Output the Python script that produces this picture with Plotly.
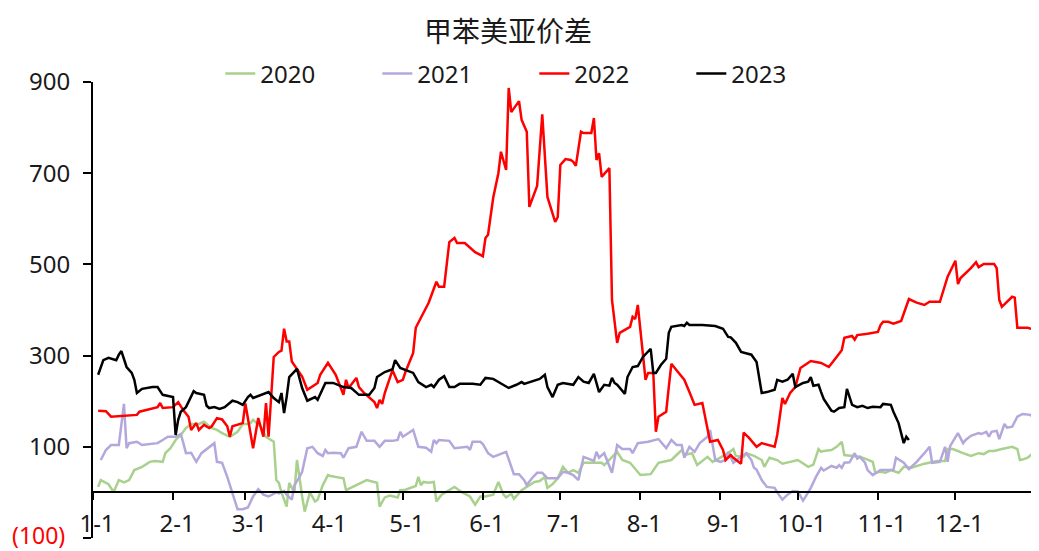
import plotly.graph_objects as go

# day-of-year positions (0 = 1-1) and values
days_2020 = [2, 3, 6, 8, 10, 12, 14, 16, 19, 22, 24, 27, 28, 30, 32, 34, 36, 38, 41, 43, 46, 48, 50, 53, 56, 58, 60, 61, 62, 65,
             67, 70, 71, 72, 73, 75, 76, 78, 79, 80, 81, 82, 84, 86, 87, 89, 91, 92, 97, 98, 102, 106, 110, 111, 113, 115, 118, 119, 121, 123,
             125, 126, 127, 128, 130, 132, 133, 135, 140, 143, 146, 148, 150, 152, 154, 155, 157, 159, 160, 162, 163, 166, 168, 171, 173, 175, 176, 178, 180, 182,
             184, 186, 188, 190, 192, 197, 198, 203, 205, 208, 212, 216, 219, 224, 226, 228, 229, 232, 234, 238, 240, 243, 246, 248, 249, 252, 253, 256, 259, 260,
             262, 265, 267, 270, 273, 277, 279, 281, 282, 283, 286, 288, 290, 291, 295, 297, 300, 302, 303, 305, 307, 309, 312, 314, 317, 319, 322, 327, 330, 331,
             333, 337, 340, 343, 345, 347, 349, 352, 354, 356, 358, 359, 360, 362, 364, 365]
vals_2020 = [12, 27, 18, 1, 27, 22, 27, 49, 56, 67, 69, 67, 86, 97, 115, 126, 141, 150, 150, 155, 141, 137, 130, 122, 133, 150, 150, 152, 159, 144,
             122, 111, 27, 21, 0, -31, 21, 0, 71, 27, -9, -42, 0, -20, -16, 16, 38, 36, 31, 5, 16, 27, 21, -31, -11, -7, -11, 5, 6, 10,
             14, 34, 16, 23, 21, 23, -20, -5, 12, 0, -9, -27, -9, -9, -7, -5, 23, -5, -11, -3, -14, 5, 12, 23, 25, 34, 10, 18, 31, 56,
             43, 49, 43, 65, 65, 65, 60, 89, 71, 65, 38, 40, 65, 71, 82, 93, 82, 86, 60, 78, 67, 76, 86, 95, 80, 78, 86, 80, 71, 56,
             76, 71, 63, 67, 71, 56, 61, 95, 89, 91, 93, 100, 111, 82, 80, 78, 72, 67, 43, 45, 43, 49, 43, 56, 54, 58, 63, 69, 69, 95,
             95, 86, 80, 86, 84, 91, 91, 95, 98, 100, 95, 71, 72, 76, 86, 97]

days_2021 = [3, 5, 7, 9, 10, 12, 13, 14, 17, 19, 22, 25, 27, 29, 32, 34, 35, 36, 38, 40, 42, 45, 47, 48, 50, 52, 54, 56, 58, 60,
             62, 64, 66, 68, 71, 72, 74, 75, 77, 78, 80, 81, 83, 85, 87, 89, 90, 91, 93, 96, 97, 99, 102, 103, 104, 106, 109, 111, 113, 116,
             118, 119, 120, 124, 126, 129, 131, 132, 133, 134, 138, 140, 143, 145, 146, 147, 150, 151, 153, 155, 160, 161, 163, 165, 167, 168, 170, 172, 174, 176,
             180, 182, 184, 186, 188, 190, 193, 194, 195, 196, 198, 199, 201, 203, 205, 208, 209, 211, 215, 219, 220, 222, 224, 226, 228, 229, 231, 233, 235, 238,
             239, 240, 241, 243, 245, 246, 248, 250, 251, 253, 255, 256, 257, 259, 261, 264, 265, 267, 269, 271, 273, 275, 276, 278, 280, 282, 283, 285, 286, 288,
             289, 290, 291, 293, 295, 296, 297, 299, 300, 302, 303, 305, 307, 310, 311, 314, 316, 319, 322, 324, 325, 328, 330, 331, 332, 333, 335, 337, 338, 340,
             343, 344, 346, 347, 348, 350, 351, 353, 354, 356, 358, 360, 363, 364, 365]
vals_2021 = [71, 93, 104, 104, 104, 194, 97, 108, 111, 104, 106, 108, 115, 122, 122, 128, 108, 86, 87, 67, 86, 100, 108, 67, 65, 34, 0, -37, -37, -33,
             -9, 7, -5, -9, 0, -2, 3, -5, -16, 16, 34, 45, 97, 100, 86, 80, 93, 86, 87, 86, 76, 97, 100, 115, 133, 113, 113, 100, 113, 113,
             115, 133, 122, 137, 100, 98, 89, 115, 108, 115, 113, 97, 98, 100, 93, 111, 111, 106, 86, 78, 89, 71, 40, 40, 27, 16, 31, 43, 43, 31,
             31, 45, 43, 38, 27, 78, 71, 69, 89, 76, 86, 71, 43, 104, 95, 95, 86, 108, 111, 117, 111, 97, 115, 104, 104, 76, 100, 89, 108, 122,
             137, 100, 71, 67, 71, 89, 65, 74, 78, 86, 71, 54, 50, 27, 12, 10, 0, -16, -5, 3, 2, -18, -9, 10, 34, 54, 48, 54, 58, 54,
             60, 54, 65, 66, 86, 74, 78, 65, 49, 38, 42, 49, 49, 49, 76, 65, 51, 67, 86, 100, 65, 67, 100, 67, 102, 111, 130, 108, 115, 124,
             130, 128, 133, 122, 133, 135, 117, 150, 142, 144, 166, 172, 170, 166, 172]

days_2022 = [2, 5, 7, 17, 18, 25, 26, 27, 31, 33, 35, 37, 38, 40, 41, 43, 45, 46, 48, 50, 52, 53, 54, 58, 59, 60, 62, 64, 66, 67,
             68, 70, 72, 73, 74, 75, 76, 77, 79, 81, 83, 87, 88, 91, 94, 97, 98, 99, 102, 103, 105, 109, 110, 111, 112, 113, 116, 118, 120, 121,
             124, 125, 127, 130, 133, 134, 136, 138, 140, 141, 144, 146, 148, 151, 152, 153, 155, 157, 158, 160, 161, 162, 165, 166, 168, 169, 172, 174, 176, 179,
             180, 181, 183, 185, 186, 187, 189, 190, 193, 194, 195, 196, 197, 200, 201, 203, 204, 208, 209, 210, 211, 214, 215, 217, 218, 219, 222, 223, 224, 226,
             229, 231, 233, 236, 239, 242, 244, 245, 247, 248, 251, 252, 254, 257, 259, 264, 265, 267, 268, 270, 272, 274, 277, 278, 282, 285, 288, 290, 291, 294,
             295, 296, 300, 304, 305, 306, 308, 310, 313, 316, 319, 322, 324, 328, 331, 334, 335, 336, 340, 342, 343, 345, 349, 350, 351, 352, 356, 357, 358, 362,
             365]
vals_2022 = [179, 178, 166, 170, 177, 187, 196, 185, 187, 198, 180, 166, 137, 152, 137, 148, 141, 145, 163, 160, 145, 122, 145, 152, 195, 159, 97, 163, 122, 196,
             122, 297, 308, 311, 359, 331, 331, 287, 270, 254, 225, 240, 258, 284, 258, 214, 247, 229, 251, 231, 218, 198, 185, 203, 194, 218, 268, 242, 247, 264,
             306, 361, 383, 416, 462, 451, 451, 549, 558, 547, 547, 538, 527, 518, 558, 565, 646, 700, 747, 707, 887, 834, 858, 817, 791, 626, 672, 829, 648, 593,
             604, 718, 731, 729, 725, 716, 791, 788, 788, 821, 729, 744, 692, 711, 422, 328, 350, 363, 385, 380, 411, 247, 262, 262, 133, 166, 177, 231, 282, 268,
             247, 220, 192, 196, 111, 115, 93, 71, 82, 76, 63, 131, 120, 100, 108, 100, 126, 207, 194, 218, 231, 273, 284, 288, 284, 275, 297, 312, 339, 343,
             335, 345, 348, 352, 367, 374, 374, 370, 376, 424, 416, 411, 418, 418, 473, 508, 457, 470, 492, 505, 494, 501, 501, 492, 422, 407, 429, 427, 361, 361,
             356]

days_2023 = [2, 4, 6, 9, 10, 11, 13, 15, 16, 17, 19, 21, 23, 25, 27, 31, 32, 33, 34, 36, 39, 40, 43, 44, 45, 47, 49, 51, 54, 56,
             58, 60, 61, 62, 65, 68, 70, 72, 73, 74, 75, 76, 79, 81, 83, 86, 87, 90, 93, 97, 100, 103, 107, 109, 110, 113, 116, 117, 119, 121,
             124, 126, 129, 131, 132, 134, 136, 138, 140, 142, 145, 147, 150, 152, 155, 157, 159, 161, 164, 166, 167, 168, 172, 173, 175, 176, 178, 180, 182, 185,
             186, 188, 190, 192, 194, 196, 198, 200, 201, 202, 203, 206, 207, 209, 211, 213, 216, 217, 218, 220, 222, 223, 224, 228, 229, 230, 231, 236, 241, 244,
             246, 247, 249, 251, 253, 255, 257, 259, 261, 264, 265, 267, 269, 271, 272, 275, 277, 278, 279, 281, 282, 283, 286, 287, 289, 291, 292, 294, 296, 298,
             300, 302, 305, 306, 309, 310, 312, 313, 314, 315, 316]
vals_2023 = [258, 290, 295, 290, 302, 310, 275, 262, 247, 218, 227, 229, 231, 231, 214, 209, 126, 159, 177, 187, 222, 218, 214, 190, 185, 187, 183, 187, 201, 198,
             192, 209, 214, 207, 214, 220, 207, 198, 218, 174, 209, 253, 271, 229, 201, 209, 203, 240, 240, 231, 229, 214, 214, 229, 253, 264, 270, 290, 273, 268,
             262, 242, 231, 236, 231, 247, 255, 231, 231, 238, 238, 238, 236, 251, 249, 242, 236, 229, 236, 242, 238, 240, 247, 249, 258, 231, 209, 236, 240, 236,
             236, 253, 243, 240, 260, 220, 236, 234, 251, 240, 236, 216, 253, 275, 277, 297, 315, 262, 262, 280, 293, 350, 363, 367, 365, 372, 367, 367, 365, 359,
             341, 340, 328, 308, 305, 302, 286, 218, 220, 225, 247, 243, 247, 260, 231, 240, 243, 253, 234, 236, 220, 205, 179, 177, 185, 187, 227, 192, 187, 190,
             185, 188, 187, 194, 192, 177, 152, 130, 108, 122, 115]

month_days = [0, 31, 59, 90, 120, 151, 181, 212, 243, 273, 304, 334]
month_labels = ["1-1", "2-1", "3-1", "4-1", "5-1", "6-1", "7-1", "8-1", "9-1", "10-1", "11-1", "12-1"]
y_ticks = [-100, 100, 300, 500, 700, 900]
y_labels = ["", "100", "300", "500", "700", "900"]
neg_label = "(100)"  # the -100 tick, drawn in red

series = [
    ("2020", days_2020, vals_2020, "#a9d18e"),
    ("2021", days_2021, vals_2021, "#b4a7dc"),
    ("2022", days_2022, vals_2022, "#ff0000"),
    ("2023", days_2023, vals_2023, "#000000"),
]

fig = go.Figure()
for name, d, v, color in series:
    fig.add_trace(go.Scatter(x=d, y=v, name=name, mode="lines",
                             line=dict(color=color, width=2.5)))

font = "Noto Sans, Noto Sans CJK SC, sans-serif"

# red label for the negative tick
fig.add_annotation(text=neg_label, xref="paper", yref="y", x=-0.028, y=y_ticks[0],
                   xanchor="right", yanchor="middle", yshift=3, showarrow=False,
                   font=dict(size=23, color="#ff0000"))

# page body has an 8px margin, so the figure is a little smaller than the window
fig.update_layout(
    width=1031, height=543,
    margin=dict(l=85, r=1, t=74, b=13),
    paper_bgcolor="white", plot_bgcolor="white",
    font=dict(family=font, size=24, color="#1a1a1a"),
    title=dict(text="甲苯美亚价差", x=0.485, xanchor="center", y=0.955, yanchor="middle",
               font=dict(family="Noto Sans CJK SC", size=28, color="#1a1a1a")),
    legend=dict(orientation="h", x=0.467, xanchor="center", y=1.018, yanchor="middle",
                entrywidth=112, font=dict(size=24), bgcolor="rgba(0,0,0,0)"),
    xaxis=dict(range=[0, 366], anchor="free", position=0.1,
               showline=True, linecolor="black", linewidth=2,
               ticks="outside", ticklen=7, tickwidth=2, tickcolor="black",
               tickvals=month_days, ticktext=month_labels,
               ticklabelstandoff=3, ticklabelshift=4,
               showgrid=False, zeroline=False),
    yaxis=dict(range=[-100, 900], showline=True, linecolor="black", linewidth=2,
               ticks="outside", ticklen=8, tickwidth=2, tickcolor="black",
               tickvals=y_ticks, ticktext=y_labels, ticklabelstandoff=8,
               showgrid=False, zeroline=False),
)

fig.write_html("out.html")
